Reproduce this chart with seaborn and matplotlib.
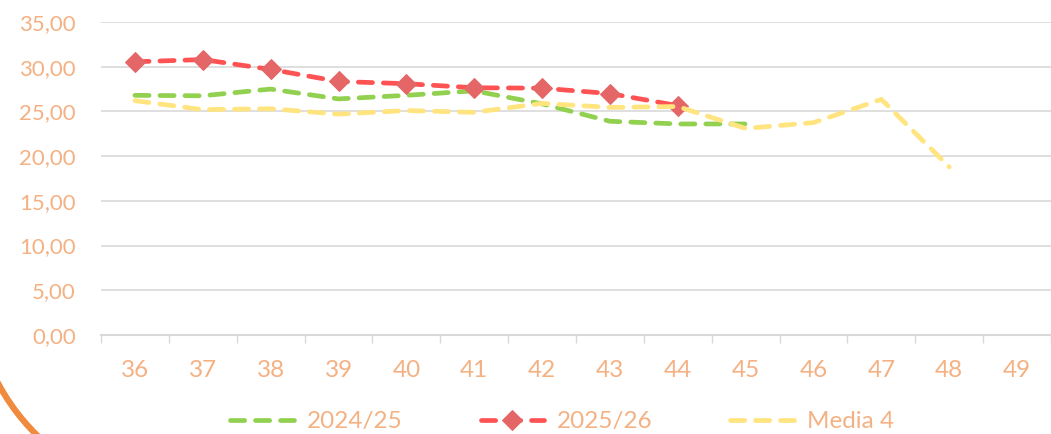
import matplotlib
matplotlib.use("Agg")
import matplotlib.pyplot as plt
import seaborn as sns
import pandas as pd
import numpy as np
from matplotlib.patches import Arc
from matplotlib.ticker import FixedLocator, FuncFormatter

weeks = ["36", "37", "38", "39", "40", "41", "42", "43", "44", "45", "46", "47", "48", "49"]
s2024_25 = [26.8, 26.75, 27.5, 26.4, 26.8, 27.3, 25.85, 23.9, 23.6, 23.6]
s2025_26 = [30.55, 30.8, 29.7, 28.35, 28.1, 27.65, 27.6, 27.0, 25.65]
media4 = [26.2, 25.2, 25.3, 24.7, 25.1, 24.9, 25.9, 25.45, 25.55, 23.1, 23.75, 26.35, 18.8]

TEXT = "#F4B183"
GREEN = "#92D050"
RED = "#FF5252"
RED_MK = "#E46666"
YELLOW = "#FFE480"
GRID = "#D9D9D9"

sns.set_theme(style="white")
plt.rcParams["font.family"] = ["Lato", "DejaVu Sans"]

fig = plt.figure(figsize=(10.51, 4.34), dpi=100)
ax = fig.add_axes([101 / 1051, 1 - 335 / 434, 950 / 1051, 313 / 434])

def frame(vals):
    return pd.DataFrame({"x": np.arange(len(vals)), "y": vals})

dash = (0, (3.0, 2.3))
LW = 3.4
sns.lineplot(data=frame(s2024_25), x="x", y="y", ax=ax, color=GREEN, lw=LW,
             linestyle=dash, dash_capstyle="round", label="2024/25")
sns.lineplot(data=frame(s2025_26), x="x", y="y", ax=ax, color=RED, lw=LW,
             linestyle=dash, dash_capstyle="round", marker="D", markersize=10.5,
             markerfacecolor=RED_MK, markeredgecolor=RED_MK, label="2025/26")
sns.lineplot(data=frame(media4), x="x", y="y", ax=ax, color=YELLOW, lw=LW,
             linestyle=dash, dash_capstyle="round", label="Media 4")

ax.set_xlim(-0.5, 13.5)
ax.set_ylim(0, 35)
ax.set_yticks(np.arange(0, 36, 5))
ax.yaxis.set_major_formatter(FuncFormatter(lambda v, p: f"{v:.2f}".replace(".", ",")))
ax.set_xticks(np.arange(len(weeks)))
ax.set_xticklabels(weeks)
ax.xaxis.set_minor_locator(FixedLocator(np.arange(-0.5, 13.6, 1)))
ax.tick_params(axis="x", which="major", length=0, pad=18, labelsize=17.5, labelcolor=TEXT)
ax.tick_params(axis="x", which="minor", length=6, width=1, color=GRID, bottom=True)
ax.tick_params(axis="y", length=0, pad=18, labelsize=16, labelcolor=TEXT)
ax.set_xlabel("")
ax.set_ylabel("")
ax.grid(axis="y", color=GRID, lw=1.2)
ax.set_axisbelow(True)
for s in ["left", "right", "top"]:
    ax.spines[s].set_visible(False)
ax.spines["bottom"].set_color(GRID)
ax.spines["bottom"].set_linewidth(1.5)

leg = ax.legend(loc="center", bbox_to_anchor=(0.535, 0.028), bbox_transform=fig.transFigure,
                ncol=3, frameon=False, fontsize=17.5, handlelength=2.6, handletextpad=0.55,
                columnspacing=3.2)
for t in leg.get_texts():
    t.set_color(TEXT)

arc = Arc((190, 154), 436, 436, theta1=195, theta2=240, transform=None,
          color="#F08A3E", lw=4.5)
fig.patches.append(arc)

fig.savefig("out.png", dpi=100)
